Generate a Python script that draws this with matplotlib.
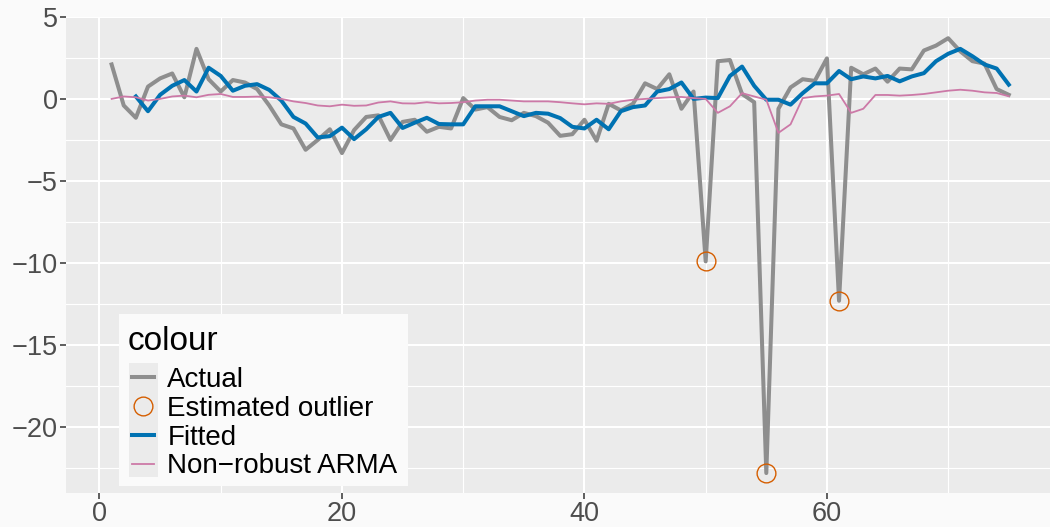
import numpy as np
import matplotlib
matplotlib.use("Agg")
import matplotlib.pyplot as plt
from matplotlib.lines import Line2D
from matplotlib.patches import Rectangle

plt.rcParams['font.family'] = ['Liberation Sans', 'DejaVu Sans']

# series values
time = np.arange(1, 76)
actual = [2.1, -0.4, -1.15, 0.75, 1.25, 1.55, 0.1, 3.05, 1.2, 0.45,
          1.15, 1.0, 0.6, -0.4, -1.55, -1.8, -3.1, -2.5, -1.85, -3.3,
          -1.9, -1.1, -1.0, -2.5, -1.4, -1.27, -2.0, -1.7, -1.8, 0.05,
          -0.65, -0.5, -1.1, -1.3, -0.85, -1.05, -1.45, -2.25, -2.15, -1.27,
          -2.55, -0.3, -0.7, -0.3, 0.95, 0.6, 1.5, -0.6, 0.45, -9.9,
          2.3, 2.37, 0.3, -0.2, -22.8, -0.6, 0.7, 1.2, 1.1, 2.47,
          -12.3, 1.9, 1.5, 1.85, 1.05, 1.85, 1.8, 2.95, 3.25, 3.7,
          2.9, 2.3, 2.15, 0.6, 0.25]

fitted_time = np.arange(3, 76)
fitted = [0.15, -0.75, 0.25, 0.8, 1.15, 0.45, 1.9, 1.4, 0.5, 0.8,
          0.9, 0.55, -0.1, -1.1, -1.5, -2.35, -2.27, -1.75, -2.45, -1.85,
          -1.1, -0.85, -1.77, -1.45, -1.15, -1.53, -1.55, -1.55, -0.45, -0.45,
          -0.45, -0.75, -1.05, -0.85, -0.9, -1.17, -1.7, -1.8, -1.27, -1.85,
          -0.75, -0.5, -0.4, 0.45, 0.6, 1.0, 0.0, 0.08, 0.05, 1.4,
          1.97, 0.8, -0.05, -0.05, -0.35, 0.35, 0.95, 0.95, 1.7, 1.2,
          1.37, 1.25, 1.4, 1.07, 1.37, 1.57, 2.3, 2.75, 3.05, 2.6,
          2.1, 1.85, 0.87]

nonrobust = [0.0, 0.15, 0.1, -0.1, 0.0, 0.15, 0.2, 0.1, 0.25, 0.3,
             0.12, 0.12, 0.14, 0.1, 0.0, -0.15, -0.25, -0.4, -0.45, -0.35,
             -0.42, -0.4, -0.22, -0.15, -0.27, -0.28, -0.2, -0.27, -0.25, -0.2,
             -0.1, -0.05, -0.05, -0.1, -0.15, -0.15, -0.15, -0.2, -0.27, -0.33,
             -0.27, -0.3, -0.15, -0.05, 0.0, 0.05, 0.1, 0.12, 0.05, 0.0,
             -0.85, -0.45, 0.35, 0.15, -0.05, -2.07, -1.55, 0.05, 0.15, 0.2,
             0.3, -0.85, -0.6, 0.24, 0.24, 0.2, 0.24, 0.3, 0.4, 0.5,
             0.56, 0.5, 0.4, 0.36, 0.16]

outlier_time = [50, 55, 61]
outlier_vals = [-9.9, -22.8, -12.3]

labels = ['Actual', 'Estimated outlier', 'Fitted', 'Non\u2212robust ARMA']
colours = ['#8e8e8e', '#D55E00', '#0072B2', '#CC79A7']

bg = '#fafafa'
fig = plt.figure(figsize=(10.5, 5.27), dpi=100, facecolor=bg)
ax = fig.add_axes([0.063, 0.065, 0.937, 0.903])
ax.set_facecolor('#ebebeb')

ax.plot(time, actual, color=colours[0], lw=2.9, zorder=3)
ax.plot(outlier_time, outlier_vals, 'o', ms=13.5, mfc='none', mec=colours[1], mew=1.0, zorder=4)
ax.plot(fitted_time, fitted, color=colours[2], lw=2.9, zorder=3)
ax.plot(time, nonrobust, color=colours[3], lw=1.3, zorder=3)

ax.set_xlim(-2.75, 78.4)
ax.set_ylim(-24.0, 5.0)
ax.set_xticks([0, 20, 40, 60])
ax.set_xticks([10, 30, 50, 70], minor=True)
ax.set_yticks([5, 0, -5, -10, -15, -20])
ax.set_yticks([2.5, -2.5, -7.5, -12.5, -17.5, -22.5], minor=True)
ax.grid(which='major', color='white', lw=1.5, zorder=0)
ax.grid(which='minor', color='white', lw=0.8, zorder=0)
ax.set_axisbelow(True)
for s in ax.spines.values():
    s.set_visible(False)
ax.tick_params(which='major', length=4, width=1.1, color='#333333',
               labelsize=19.5, labelcolor='#4d4d4d', pad=2)
ax.tick_params(which='minor', length=0)

# legend box drawn by hand so the key column can get its grey background
box = Rectangle((119 / 1050, 1 - 486 / 527), 289 / 1050, 172 / 527,
                transform=fig.transFigure, facecolor=bg, edgecolor='none', zorder=6)
keys = Rectangle((129 / 1050, 1 - 477 / 527), 29 / 1050, 114 / 527,
                 transform=fig.transFigure, facecolor='#ebebeb', edgecolor='none', zorder=7)
ax.add_patch(box)
ax.add_patch(keys)
fig.text(128 / 1050, 1 - 342 / 527, 'colour', fontsize=24, va='center', ha='left', zorder=9)

handles = [Line2D([], [], color=colours[0], lw=2.9),
           Line2D([], [], ls='none', marker='o', ms=13.5, mfc='none', mec=colours[1], mew=1.0),
           Line2D([], [], color=colours[2], lw=2.9),
           Line2D([], [], color=colours[3], lw=1.3)]
leg = ax.legend(handles, labels, loc='upper left',
                bbox_to_anchor=(132 / 1050, 1 - 367 / 527), bbox_transform=fig.transFigure,
                frameon=False, fontsize=20, handlelength=0.8,
                handletextpad=0.47, labelspacing=0.1, borderpad=0, borderaxespad=0)
leg.set_zorder(8)

fig.savefig('out.png', dpi=100, facecolor=bg)
